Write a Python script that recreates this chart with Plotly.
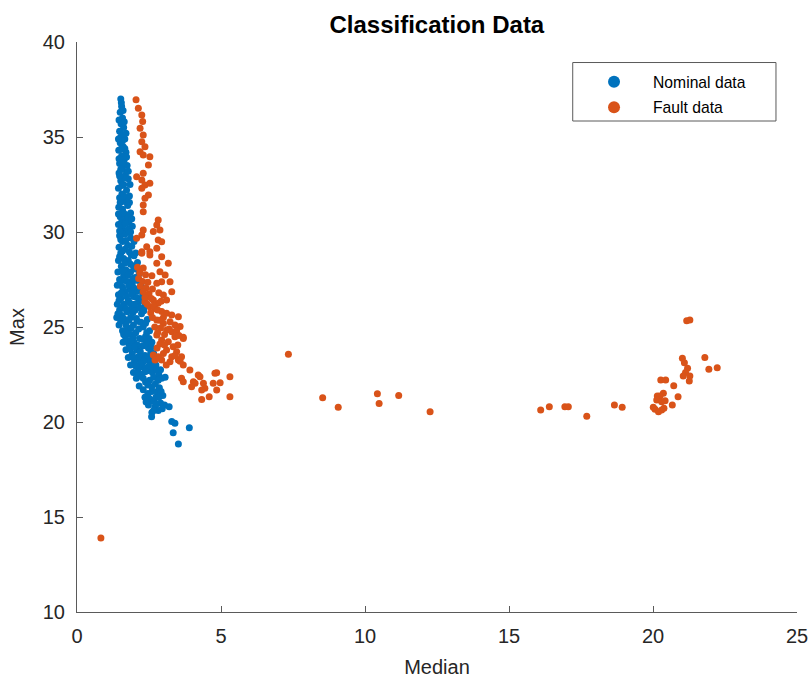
import plotly.graph_objects as go

# Nominal data (Median, Max)
nominal_points = [
    (1.52,37.0),(1.55,36.6),(1.50,36.3),(1.58,36.0),(1.53,35.7),(1.62,35.5),(1.48,35.3),(1.57,35.1),
    (1.66,34.9),(1.50,34.7),(1.60,34.5),(1.45,34.3),(1.70,34.2),(1.55,34.0),(1.64,33.8),(1.48,33.6),
    (1.74,33.5),(1.58,33.3),(1.46,33.1),(1.68,33.0),(1.78,32.8),(1.52,32.7),(1.62,32.5),(1.44,32.3),
    (1.72,32.2),(1.56,32.0),(1.82,31.9),(1.48,31.8),(1.66,31.6),(1.76,31.4),(1.45,31.3),(1.58,31.2),
    (1.86,31.0),(1.70,30.9),(1.50,30.8),(1.62,30.6),(1.80,30.5),(1.44,30.4),(1.92,30.3),(1.55,30.2),
    (1.72,30.0),(1.66,29.9),(1.48,29.8),(1.86,29.7),(1.98,29.5),(1.58,29.5),(1.76,29.3),(1.46,29.2),
    (1.68,29.1),(2.04,28.9),(1.52,28.9),(1.88,28.8),(1.62,28.6),(1.44,28.5),(1.78,28.5),(2.10,28.4),
    (1.96,28.2),(1.54,28.2),(1.70,28.0),(1.42,27.9),(1.86,27.9),(2.16,27.8),(1.62,27.7),(2.02,27.6),
    (1.48,27.5),(1.76,27.4),(1.92,27.3),(2.22,27.2),(1.40,27.2),(1.58,27.1),(1.84,27.0),(2.08,26.9),
    (1.68,26.8),(1.44,26.7),(2.28,26.7),(1.96,26.6),(1.52,26.5),(1.78,26.4),(2.14,26.3),(1.40,26.2),
    (1.64,26.2),(2.36,26.1),(1.90,26.0),(2.02,25.9),(1.48,25.9),(1.74,25.8),(2.24,25.7),(1.56,25.6),
    (1.38,25.5),(1.86,25.5),(2.44,25.4),(2.10,25.3),(1.66,25.3),(1.46,25.1),(1.96,25.1),(2.30,25.0),
    (1.76,24.9),(1.58,24.8),(2.52,24.8),(2.04,24.7),(1.88,24.6),(1.68,24.5),(2.38,24.5),(2.18,24.4),
    (1.60,24.2),(1.98,24.2),(2.60,24.2),(1.80,24.1),(2.28,24.0),(2.48,23.9),(1.70,23.8),(2.08,23.8),
    (1.92,23.6),(2.66,23.6),(2.36,23.5),(1.78,23.4),(2.20,23.3),(2.54,23.2),(2.00,23.2),(1.86,23.0),
    (2.74,23.0),(2.30,22.9),(2.12,22.8),(2.44,22.7),(1.96,22.6),(2.62,22.6),(2.84,22.5),(2.24,22.4),
    (2.06,22.3),(2.52,22.2),(2.94,22.3),(2.38,22.1),(2.72,22.0),(2.16,21.9),(3.06,22.35),(2.30,21.7),
    (2.86,21.8),(2.60,21.6),(2.46,21.5),(2.98,21.4),(2.36,21.3),(2.74,21.3),(2.56,21.1),(2.90,21.0),
    (3.04,20.9),(2.48,20.9),(2.70,20.8),(2.82,20.6),(2.60,20.5),(2.59,20.28),(3.20,20.8),(3.29,20.02),
    (3.40,19.93),(3.90,19.70),(3.34,19.44),(3.52,18.84),
    (1.60,30.35),(1.78,30.15),(1.52,29.6),(1.70,29.55),(1.90,29.25),(1.58,29.0),(1.82,28.95),(1.98,28.75),
    (1.48,28.7),(1.66,28.35),(1.86,28.3),(1.56,27.95),(2.04,28.05),(1.78,27.75),(1.94,27.55),(1.66,27.45),
    (2.12,27.45),(1.50,27.35),(1.80,27.2),(1.98,27.05),(1.62,26.95),(2.18,26.95),(1.90,26.75),(1.54,26.8),
    (1.72,26.6),(2.08,26.55),(2.26,26.45),(1.46,26.4),(1.84,26.25),(2.00,26.2),(1.58,26.05),(1.70,25.95),
    (2.18,26.0),(2.32,25.85),(1.94,25.75),(1.42,25.7),(1.62,25.45),(1.80,25.35),(2.06,25.45),(2.22,25.25),
    (2.38,25.2),(1.52,25.3),(1.70,25.1),(1.88,24.95),(2.14,24.9),(2.42,24.7),(1.62,24.6),(1.78,24.65),
    (1.96,24.45),(2.28,24.35),(2.50,24.4),(1.72,24.3),(1.88,24.3),(2.10,24.05),(2.40,24.15),(2.58,23.95),
    (1.84,23.85),(2.00,23.95),(2.20,23.7),(2.56,23.65),(2.14,23.45),(2.46,23.35),(2.32,23.2),(2.68,23.3),
    (1.96,23.4),(2.20,23.05),(2.62,22.9),(2.50,22.95),(2.04,22.95),(2.36,22.65),(2.76,22.75),(2.16,22.55),
    (2.90,22.75),(2.30,22.3),(2.66,22.35),(2.82,22.2),(2.46,21.95),(2.60,21.85),(2.78,21.6),(2.92,21.6),
    (2.50,21.25),(2.66,21.15),(2.84,21.3),(2.76,20.95),(2.40,21.05),(2.96,20.7),(2.66,20.6),
    (1.54,36.8),(1.60,36.4),(1.46,35.9),(1.64,35.8),(1.52,35.0),(1.70,35.2),(1.58,34.8),(1.44,34.9),
    (1.66,34.4),(1.52,34.35),(1.72,33.95),(1.46,33.85),(1.60,33.65),(1.78,33.2),(1.52,33.3),(1.66,32.85),
    (1.48,32.95),(1.84,32.5),(1.56,32.45),(1.74,31.8),(1.62,31.9),(1.50,31.55),(1.82,31.55),(1.62,31.0),
    (1.44,30.95),(1.78,30.75),(1.90,30.7),(1.54,30.5),(1.68,30.45),(1.86,30.0),(1.48,30.05),
]

# Fault data (Median, Max)
fault_points = [
    (2.05,36.96),(2.13,36.51),(2.25,36.16),(2.28,35.81),(2.19,35.46),(2.30,35.10),(2.25,34.75),(2.36,34.49),
    (2.19,34.23),(2.30,34.05),(2.53,33.96),(2.48,33.53),(2.30,33.09),(2.07,32.91),(2.25,32.74),(2.36,32.47),
    (2.53,32.56),(2.25,32.30),(2.48,31.95),(2.36,31.77),(2.30,31.42),(2.30,31.07),(2.82,30.63),(2.77,30.37),
    (2.88,30.10),(2.65,30.02),(2.30,30.10),(2.25,29.84),(2.07,29.67),(2.82,29.58),(2.94,29.49),(2.42,29.23),
    (2.77,29.14),(2.53,28.96),(2.25,28.96),(2.25,28.88),(2.53,28.79),(2.94,28.70),(3.17,28.35),(2.77,28.35),
    (2.88,27.91),(3.06,27.74),(2.94,27.38),(2.77,27.30),(3.23,27.38),(3.29,26.86),(3.00,26.68),(3.11,26.42),
    (2.82,26.25),(2.65,26.42),(2.36,26.33),(2.53,26.07),(2.71,25.98),(2.94,25.81),(3.11,25.72),(3.29,25.63),
    (3.52,25.54),(3.58,25.02),(2.77,25.37),(3.00,25.19),(3.23,25.28),(3.11,24.84),(3.29,24.75),(3.40,24.49),
    (3.69,24.40),(2.77,24.58),(2.94,24.32),(3.17,24.23),(3.34,23.96),(3.11,23.79),(3.46,23.70),(3.29,23.44),
    (3.52,23.26),(2.65,23.53),(2.82,23.44),(2.71,23.26),(2.94,23.26),(3.23,23.17),(3.63,23.44),(3.69,23.00),
    (3.69,24.46),(3.92,22.74),(3.63,22.30),(3.69,22.12),(4.21,22.47),(4.27,22.38),(4.04,22.12),(4.10,22.04),
    (3.98,21.86),(4.39,22.04),(4.44,21.77),(4.33,21.68),(4.79,22.56),(4.85,22.59),(4.73,22.04),(4.97,22.07),
    (4.85,21.68),(5.31,22.38),(5.31,21.33),(4.59,21.33),(4.33,21.19),
    (2.10,28.15),(2.30,28.10),(2.18,27.85),(2.38,27.75),(2.60,27.70),(2.14,27.55),(2.28,27.40),(2.46,27.35),
    (2.20,27.15),(2.40,27.05),(2.62,27.00),(2.30,26.85),(2.50,26.75),(2.84,26.80),(2.36,26.55),(2.58,26.50),
    (2.92,26.35),(2.44,26.20),(2.66,26.10),(2.80,25.90),(2.56,25.75),(3.00,25.50),(2.62,25.50),(2.86,25.35),
    (3.40,25.10),(2.70,25.00),(2.90,24.95),(3.20,24.90),(3.46,24.80),(2.80,24.70),(3.04,24.60),(3.54,24.55),
    (2.88,24.10),(3.04,24.05),(3.50,24.05),(2.78,23.90),(3.00,23.60),(3.40,23.50),(3.58,23.20),(2.86,23.35),
    (3.10,23.00),
    (7.34,23.56),(8.53,21.28),(9.07,20.77),(10.43,21.49),(10.49,20.98),(11.17,21.40),(12.26,20.54),
    (16.10,20.63),(16.40,20.80),(16.94,20.80),(17.06,20.80),(17.70,20.30),(18.66,20.90),(18.93,20.77),
    (21.17,25.33),(21.28,25.37),(21.80,23.40),(21.94,22.77),(22.23,22.86),(21.02,23.35),(21.09,23.12),
    (21.20,22.83),(21.13,22.60),(21.28,22.42),(21.05,22.42),(21.26,22.16),(20.27,22.21),(20.44,22.21),
    (20.72,21.91),(20.87,21.33),(20.67,20.89),(20.36,21.51),(20.15,21.37),(20.24,21.37),(20.13,21.16),
    (20.30,21.07),(20.42,21.12),(20.07,20.67),(20.19,20.54),(20.30,20.63),(20.38,20.72),(20.01,20.77),
    (0.83,13.90),
]

nominal_median = [p[0] for p in nominal_points]
nominal_max = [p[1] for p in nominal_points]
fault_median = [p[0] for p in fault_points]
fault_max = [p[1] for p in fault_points]

x_ticks = [0, 5, 10, 15, 20, 25]
y_ticks = [10, 15, 20, 25, 30, 35, 40]

BLUE = "#0072BD"
ORANGE = "#D95319"
AX = "#262626"
LINE = "#5a5a5a"
FONT = "Liberation Sans, Arial, sans-serif"

fig = go.Figure()
fig.add_trace(go.Scatter(x=nominal_median, y=nominal_max, mode="markers", name="Nominal data",
                         legendgroup="a",
                         marker=dict(color=BLUE, size=7, line=dict(width=0))))
fig.add_trace(go.Scatter(x=fault_median, y=fault_max, mode="markers", name="Fault data",
                         legendgroup="b",
                         marker=dict(color=ORANGE, size=7, line=dict(width=0))))

# legend frame
fig.add_shape(type="rect", xref="paper", yref="paper",
              x0=0.6885, x1=0.9708, y0=0.8614, y1=0.964,
              line=dict(color=LINE, width=1), fillcolor="white", layer="above")

fig.update_layout(
    template="none",
    width=812, height=678,
    margin=dict(l=77, r=15, t=42, b=66),
    paper_bgcolor="white", plot_bgcolor="white",
    font=dict(family=FONT, color=AX, size=20),
    title=dict(text="<b>Classification Data</b>", x=0.538, xanchor="center",
               y=1 - 25/678, yanchor="middle", font=dict(size=24, color="black")),
    legend=dict(x=0.6917, y=0.9596, xanchor="left", yanchor="top",
                bgcolor="rgba(0,0,0,0)", borderwidth=0,
                font=dict(size=15.7, color="black"), itemwidth=68,
                itemsizing="constant", traceorder="grouped", tracegroupgap=2),
    xaxis=dict(range=[0, 25], tickvals=x_ticks, ticks="inside", ticklen=6, tickcolor=LINE,
               showline=True, linecolor=LINE, linewidth=1, showgrid=False, zeroline=False,
               automargin=False, ticklabelstandoff=6, ticklabeloverflow="allow",
               title=dict(text="Median", font=dict(size=20), standoff=13),
               tickfont=dict(size=20)),
    yaxis=dict(range=[10, 40], tickvals=y_ticks, ticks="inside", ticklen=6, tickcolor=LINE,
               showline=True, linecolor=LINE, linewidth=1, showgrid=False, zeroline=False,
               automargin=False, ticklabelstandoff=7,
               title=dict(text="Max", font=dict(size=20), standoff=12),
               tickfont=dict(size=20)),
)

fig.write_html("out.html")
